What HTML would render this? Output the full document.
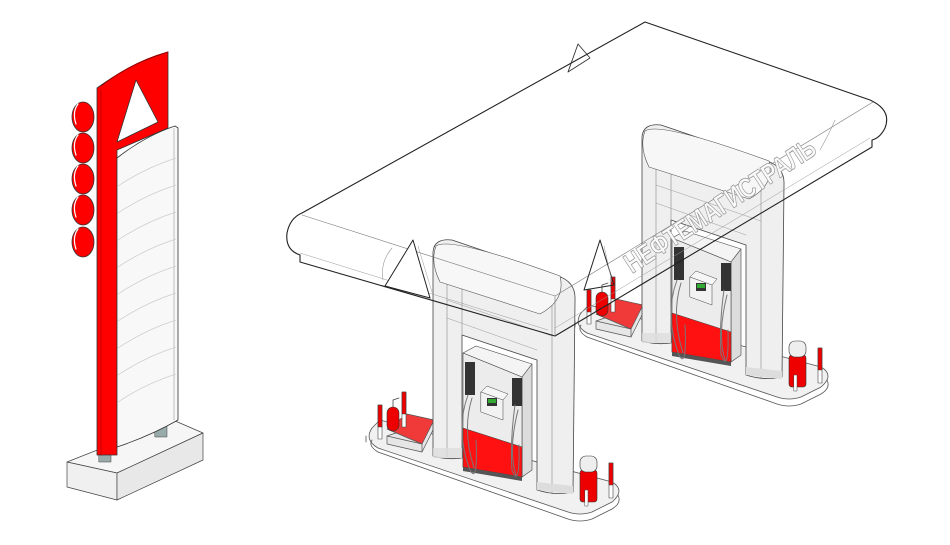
<!DOCTYPE html>
<html><head><meta charset="utf-8"><style>
html,body{margin:0;padding:0;background:#fff;}
svg{display:block;}
</style></head><body>
<svg width="950" height="545" viewBox="0 0 950 545" xmlns="http://www.w3.org/2000/svg" stroke-linejoin="round" stroke-linecap="round">
<defs>
<g id="island">
  <!-- slab -->
  <path d="M380,420 L612,482 Q626,490 612,502 L592,512 Q580,516 568,512 L378,448 Q364,440 372,428 Z" fill="#f1f1f1" stroke="#555" stroke-width="0.8"/>
  <path d="M372,440 Q368,446 378,452 L568,519 Q580,523 592,519 L612,509 Q622,503 618,495" fill="none" stroke="#555" stroke-width="0.8"/>
  <path d="M366,436 L366,442" stroke="#555" stroke-width="0.8"/>
  <!-- mat -->
  <path d="M387,436 L387,444 L422,452 L434,428 L434,420 Z" fill="#e6e6e6" stroke="#555" stroke-width="0.7"/>
  <path d="M387,429 L407,414 L434,420 L422,444 Z" fill="#f03a3a" stroke="#555" stroke-width="0.7"/>
  <path d="M387,436 L422,444 L422,452" fill="none" stroke="#555" stroke-width="0.7"/>
  <!-- extinguisher -->
  <rect x="387" y="407" width="12" height="24" rx="6" fill="#e00" stroke="#333" stroke-width="0.6"/>
  <path d="M393,407 L393,400 L399,398" fill="none" stroke="#444" stroke-width="0.8"/>
  <!-- poles -->
  <rect x="378" y="405" width="4" height="34" fill="#fff" stroke="#444" stroke-width="0.6"/>
  <rect x="378" y="405" width="4" height="22" fill="#e00" stroke="#444" stroke-width="0.6"/>
  <rect x="402" y="392" width="4" height="35" fill="#fff" stroke="#444" stroke-width="0.6"/>
  <rect x="402" y="392" width="4" height="22" fill="#e00" stroke="#444" stroke-width="0.6"/>
  <rect x="609" y="463" width="4" height="35" fill="#fff" stroke="#444" stroke-width="0.6"/>
  <rect x="609" y="463" width="4" height="22" fill="#e00" stroke="#444" stroke-width="0.6"/>
  <!-- bollard -->
  <rect x="580" y="470" width="17" height="32" rx="3" fill="#e00" stroke="#333" stroke-width="0.6"/>
  <rect x="580" y="456" width="17" height="16" rx="6" fill="#eee" stroke="#333" stroke-width="0.6"/>
  <rect x="585" y="490" width="3" height="16" fill="#fff" stroke="#444" stroke-width="0.5"/>
  <!-- pillar frame -->
  <path d="M433,252 Q434,238 452,240 L558,276 Q576,282 575,300 L573,492 Q556,496 537,490 L537,360 L462,335 L462,458 Q446,460 433,456 Z" fill="#efefef" stroke="#444" stroke-width="0.8"/>
  <path d="M447,246 L447,457 M552,282 L552,494 M462,335 L462,262" fill="none" stroke="#888" stroke-width="0.6"/>
  <path d="M436,246 Q450,236 560,276 Q566,300 540,314 L440,282 Q430,262 436,246 Z" fill="#f7f7f7" stroke="#555" stroke-width="0.6"/>
  <path d="M447,300 L552,336 M447,318 L537,350" fill="none" stroke="#999" stroke-width="0.5"/>
  <rect x="433" y="448" width="29" height="10" fill="#ddd" opacity="0.8"/>
  <path d="M537,482 L573,486 L573,494 L537,490 Z" fill="#ddd"/>
  <!-- dispenser -->
  <path d="M463,353 L476,346 L532,364 L522,377 Z" fill="#f4f4f4" stroke="#444" stroke-width="0.6"/>
  <path d="M522,377 L532,364 L532,470 L522,477 Z" fill="#dcdcdc" stroke="#444" stroke-width="0.6"/>
  <path d="M463,353 L522,377 L522,477 L463,467 Z" fill="#ececec" stroke="#444" stroke-width="0.6"/>
  <path d="M463,428 L522,447 L522,477 L463,467 Z" fill="#f11" stroke="#444" stroke-width="0.6"/>
  <path d="M463,467 L522,477 L522,481 L463,471 Z" fill="#555"/>
  <rect x="465" y="362" width="10" height="33" fill="#333"/>
  <rect x="512" y="378" width="10" height="28" fill="#333"/>
  <path d="M481,392 L487,386 L508,394 L503,400 Z" fill="#f6f6f6" stroke="#444" stroke-width="0.5"/>
  <path d="M481,392 L503,400 L503,420 L481,412 Z" fill="#f2f2f2" stroke="#444" stroke-width="0.5"/>
  <rect x="487" y="398" width="10" height="8" fill="#333"/>
  <rect x="488" y="399" width="8" height="4" fill="#3a3"/>
  <path d="M468,395 Q455,430 470,470 Q478,485 476,440 M472,398 Q462,430 474,468 M515,405 Q510,440 512,470 Q520,490 519,445 M518,410 Q508,450 516,475" fill="none" stroke="#777" stroke-width="1"/>
</g>
</defs>

<!-- ===== PYLON ===== -->
<path d="M67,462 L173,420 L203,433 L117,473 Z" fill="#f6f6f6" stroke="#444" stroke-width="0.7"/>
<path d="M67,462 L67,487 L117,500 L117,473 Z" fill="#f0f0f0" stroke="#444" stroke-width="0.7"/>
<path d="M117,473 L203,433 L203,460 L117,500 Z" fill="#e8e8e8" stroke="#444" stroke-width="0.7"/>
<rect x="99" y="450" width="12" height="12" fill="#9aa" stroke="#444" stroke-width="0.5"/>
<rect x="155" y="425" width="12" height="12" fill="#9aa" stroke="#444" stroke-width="0.5"/>
<!-- red body -->
<path d="M97,88 Q130,64 162,54 L168,52 L168,128 L117,150 L117,455 L97,455 Z" fill="#f00" stroke="#333" stroke-width="0.8"/>
<path d="M101,86 Q132,62 168,52" fill="none" stroke="#900" stroke-width="1"/>
<path d="M101,90 L101,455" stroke="#b00" stroke-width="0.8"/>
<polygon points="117,142 136,80 158,122" fill="#fff" stroke="#333" stroke-width="0.8"/>
<!-- white panel -->
<path d="M117,158 Q145,136 175,126 L178,128 L178,420 Q150,436 117,447 Z" fill="#f8f8f8" stroke="#333" stroke-width="0.8"/>
<path d="M174,128 L174,420" stroke="#999" stroke-width="0.6"/>
<g fill="none" stroke="#ccc" stroke-width="0.7">
<path d="M118,186 Q145,168 176,158"/><path d="M118,213 Q145,195 176,185"/><path d="M118,240 Q145,222 176,212"/>
<path d="M118,267 Q145,249 176,239"/><path d="M118,294 Q145,276 176,266"/><path d="M118,321 Q145,303 176,293"/>
<path d="M118,348 Q145,330 176,320"/><path d="M118,375 Q145,357 176,347"/><path d="M118,402 Q145,384 176,374"/>
</g>
<!-- circles -->
<g fill="#f00" stroke="#333" stroke-width="0.8">
<ellipse cx="83" cy="117" rx="11" ry="15"/><ellipse cx="83" cy="148" rx="11" ry="15"/><ellipse cx="83" cy="179" rx="11" ry="15"/>
<ellipse cx="83" cy="210" rx="11" ry="15"/><ellipse cx="83" cy="242" rx="11" ry="15"/>
</g>
<g stroke="#fff" stroke-width="1.2" fill="none">
<path d="M76,124 Q72,112 78,104"/><path d="M76,155 Q72,143 78,135"/><path d="M76,186 Q72,174 78,166"/><path d="M76,217 Q72,205 78,197"/><path d="M76,249 Q72,237 78,229"/>
</g>

<!-- ===== CANOPY FILL ===== -->
<path d="M302,213 L645,22 L870,100 Q892,110 885,128 Q880,138 870,140 L555,336 L300,260 Q285,255 287,233 Q290,218 302,213 Z" fill="#fff"/>
<polygon points="568,72 578,44 590,58" fill="#fff" stroke="#333" stroke-width="0.9"/>

<!-- back island -->
<g transform="translate(209,-115)"><use href="#island"/></g>
<!-- front island -->
<use href="#island"/>

<!-- canopy lines -->
<path d="M302,213 L645,22 L870,100 Q892,110 885,128 Q880,138 872,140 L872,147 L555,336 L300,262 L300,255 Q285,250 287,233 Q290,218 302,213" fill="none" stroke="#222" stroke-width="1.1"/>
<path d="M302,215 L555,296 L873,102 M555,296 L555,336" fill="none" stroke="#777" stroke-width="0.6"/>
<path d="M300,253 L548,330 M555,328 L870,138" fill="none" stroke="#999" stroke-width="0.5"/>
<path d="M392,248 Q380,262 383,280 M820,150 Q830,132 835,120" fill="none" stroke="#999" stroke-width="0.6"/>
<!-- triangles -->
<polygon points="385,286 413,240 430,298" fill="#fff" stroke="#222" stroke-width="1"/>
<polygon points="584,290 600,240 614,285" fill="none" stroke="#222" stroke-width="1"/>
<path d="M418,246 L432,292 M604,246 L612,282" stroke="#999" stroke-width="0.5"/>
<!-- text -->
<text x="632" y="274" transform="rotate(-33 632 274)" font-family="Liberation Sans, DejaVu Sans, sans-serif" font-weight="bold" font-size="28" fill="#fafafa" stroke="#999" stroke-width="0.8" textLength="222" lengthAdjust="spacingAndGlyphs">НЕФТЕМАГИСТРАЛЬ</text>
</svg>
</body></html>
